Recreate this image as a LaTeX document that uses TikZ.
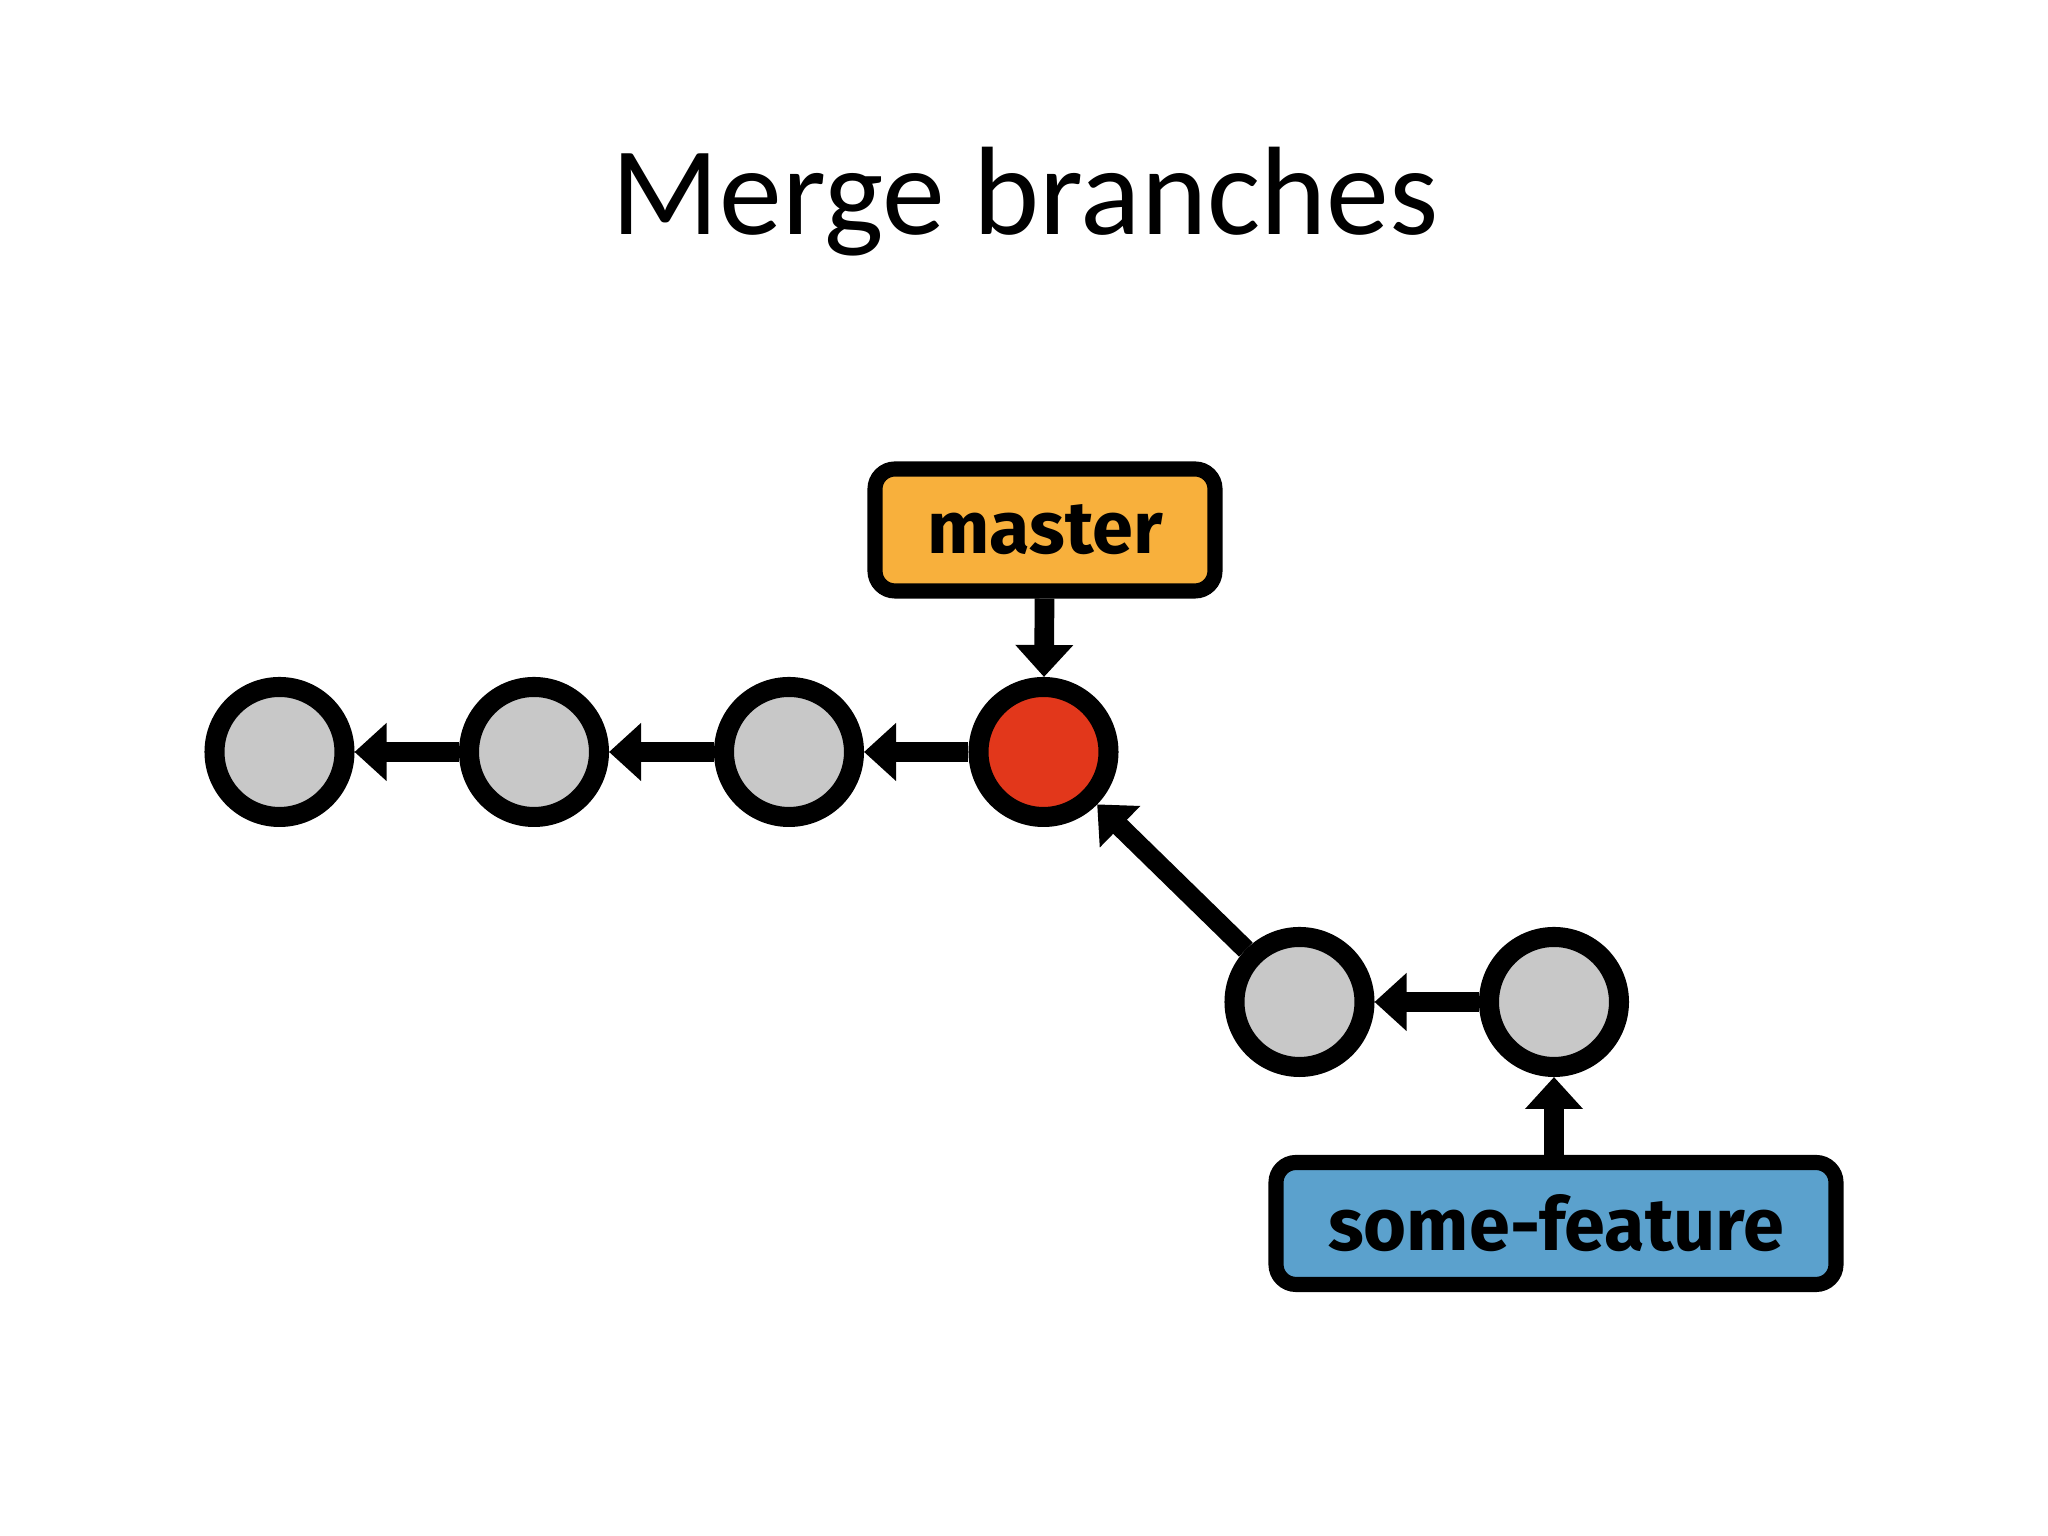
\documentclass[tikz,border=0pt]{standalone}
\usepackage{fontspec}
\setmainfont{Carlito}
\newfontfamily\branchfont{Fira Sans}
\usepackage{tikz}
\usetikzlibrary{arrows.meta}
\definecolor{commitgray}{HTML}{C8C8C8}
\definecolor{headred}{HTML}{E2371B}
\definecolor{masterorange}{HTML}{F8B03C}
\definecolor{featureblue}{HTML}{5BA1CD}

\begin{document}
\begin{tikzpicture}[
            commit/.style={circle, draw, line width=5.7pt, fill=commitgray, minimum size=1.30cm, inner sep=0pt},
            branch/.style={draw, line width=4.3pt, rounded corners=0.2cm, minimum height=1.22cm, font=\branchfont\bfseries\fontsize{21}{24}\selectfont},
            parent/.style={line width=5.6pt, -{Triangle[length=0.32cm, width=0.56cm]}}
        ]
            \useasboundingbox (0,0) rectangle (20.48,15.36);
            \node [font=\fontsize{35.8}{42}\selectfont, anchor=base] (title) at (10.25,13.01) {Merge branches};
            \node [commit] (c1) at (2.795,7.84) {};
            \node [commit] (c2) at (5.34,7.84) {};
            \node [commit] (c3) at (7.89,7.84) {};
            \node [commit, fill=headred] (c4) at (10.435,7.84) {};
            \node [commit] (c5) at (12.995,5.34) {};
            \node [commit] (c6) at (15.54,5.34) {};
            \node [branch, fill=masterorange, minimum width=3.4cm] (master) at (10.45,10.06) {master};
            \node [branch, fill=featureblue, minimum width=5.6cm] (feature) at (15.56,3.125) {some-feature};
            \draw [parent] (c2) -- (c1);
            \draw [parent] (c3) -- (c2);
            \draw [parent] (c4) -- (c3);
            \draw [parent] (c5) -- (c4);
            \draw [parent] (c6) -- (c5);
            \draw [parent] (master) -- (c4);
            \draw [parent] (feature.north -| c6) -- (c6);
        \end{tikzpicture}
\end{document}
